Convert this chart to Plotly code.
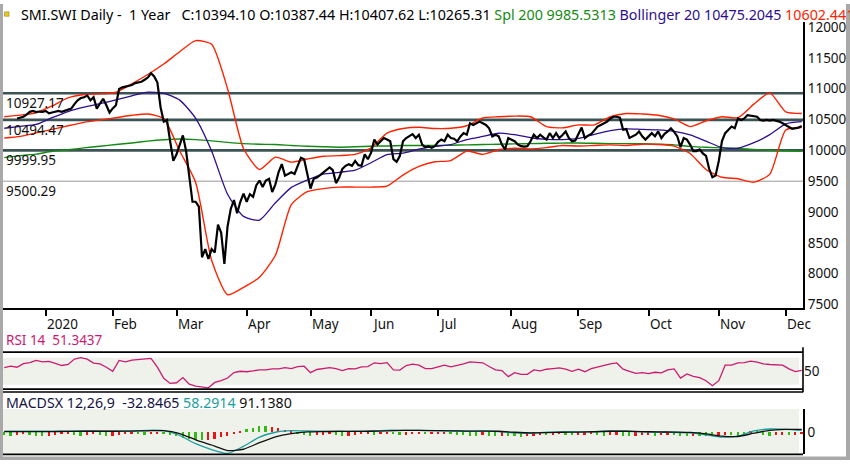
import pandas as pd
import plotly.graph_objects as go

# ---------------- calendar (SIX trading days) ----------------
HOLIDAYS = ["2019-12-24", "2019-12-25", "2019-12-26", "2019-12-31",
            "2020-01-01", "2020-01-02", "2020-04-10", "2020-04-13",
            "2020-05-01", "2020-05-21", "2020-06-01"]
START, END = "2019-12-09", "2020-12-08"
days = [d.strftime("%Y-%m-%d") for d in
        pd.bdate_range(START, END, freq="C", holidays=HOLIDAYS)]

# ---------------- price (daily closes from 2019-12-13) ----------------
closes = [
    10518, 10530, 10545, 10580, 10625, 10640, 10620, 10630, 10625,
    10640, 10600, 10615, 10625, 10640, 10625, 10640, 10652, 10677, 10750, 10811,
    10847, 10860, 10890, 10811, 10863, 10677, 10760, 10837, 10731, 10614,
    10680, 10731, 10995, 11022, 11034, 11045, 11059, 11091, 11100, 11113,
    11145, 11181, 11250, 11200, 11100, 10700, 10466, 10493, 10148, 9830,
    9936, 10100, 10243, 9990, 9600, 9167, 9167, 9087, 8267, 8399, 8240,
    8400, 8346, 8796, 8664, 8161, 8769, 9050, 9194, 8982, 9167, 9300,
    9167, 9290, 9246, 9432, 9512, 9405, 9512, 9539, 9326, 9450,
    9650, 9777, 9591, 9620, 9644, 9618, 9750, 9882, 9857, 9591,
    9380, 9539, 9560, 9600, 9644, 9690, 9723, 9680, 9470, 9560,
    9700, 9750, 9777, 9750, 9830, 9760, 9750, 9936, 9857,
    9962, 10175, 10095, 10148, 10200, 10175, 10148, 9857, 9814, 9909,
    10148, 10200, 10227, 10264, 10200, 10254, 10095, 10052, 10068, 10041, 10068,
    10140, 10175, 10148, 10254, 10200, 10190, 10148, 10227, 10280, 10254,
    10439, 10413, 10440, 10466, 10439, 10413, 10359, 10227, 10254, 10227,
    10095, 10016, 10200,
    10170, 10148, 10095, 10068, 10060, 10068, 10148, 10254, 10200, 10254,
    10210, 10175, 10280, 10200, 10280, 10200, 10250, 10307, 10200, 10148, 10160,
    10254, 10370, 10200, 10240, 10264, 10330, 10386, 10413, 10439, 10466,
    10518, 10545, 10545, 10530, 10334, 10345, 10200, 10230, 10254, 10307,
    10227, 10175,
    10230, 10280, 10230, 10307, 10200, 10270, 10307, 10359, 10300, 10227,
    10052, 10200, 10175, 10095, 9989, 9989, 10016, 9950, 9909, 9698, 9564, 9591,
    9830, 10150, 10280, 10334, 10386, 10359, 10518, 10493, 10518, 10572,
    10561, 10545, 10545, 10493, 10482, 10493, 10482, 10493, 10480, 10466, 10439,
    10402, 10380, 10350, 10359, 10370, 10394,
]

# ---------------- indicators read every 5th trading day ----------------
boll_upper = [
    10545, 10572, 10610, 10720, 10850, 10905, 10916, 10943, 11080, 11230,
    11400, 11600, 11780, 11720, 11000, 10030, 9690, 9890, 9810, 9860,
    9905, 9915, 9936, 10041, 10280, 10355, 10375, 10355, 10359, 10400,
    10525, 10545, 10556, 10545, 10386, 10365, 10413, 10413, 10545, 10598,
    10590, 10570, 10510, 10386, 10480, 10545, 10530, 10750, 10932, 10625,
    10598]
boll_lower = [
    10200, 10227, 10285, 10340, 10400, 10455, 10493, 10530, 10570, 10590,
    10515, 9990, 9480, 8220, 7660, 7780, 7945, 8300, 9120, 9330,
    9380, 9405, 9405, 9405, 9420, 9600, 9740, 9815, 9835, 9989,
    9936, 10010, 10035, 10025, 10045, 10080, 10070, 10080, 10090, 10080,
    10100, 10095, 10070, 9950, 9690, 9565, 9540, 9485, 9615, 10330,
    10370]
boll_mid = [
    10359, 10390, 10420, 10530, 10630, 10700, 10757, 10820, 10885, 10945,
    10925, 10815, 10520, 9990, 9290, 8930, 8870, 9150, 9400, 9520,
    9615, 9644, 9680, 9800, 9930, 9955, 10020, 10065, 10095, 10175,
    10227, 10278, 10255, 10205, 10180, 10175, 10195, 10260, 10320, 10350,
    10340, 10334, 10310, 10250, 10150, 10045, 10035, 10125, 10255, 10430,
    10466]
sma200 = [
    9882, 9915, 9940, 9985, 10010, 10040, 10068, 10095, 10120, 10150,
    10172, 10184, 10175, 10155, 10130, 10110, 10100, 10095, 10080, 10068,
    10060, 10052, 10058, 10068, 10072, 10079, 10079, 10079, 10084, 10090,
    10095, 10100, 10105, 10110, 10115, 10118, 10121, 10115, 10110, 10110,
    10108, 10100, 10090, 10065, 10050, 10040, 10032, 10015, 10003, 9995,
    9986]
macd_line = [
    30, 30, 30, 30, 35, 40, 35, 30, 40, 60,
    50, -100, -350, -530, -650, -430, -150, 0, 50, 40,
    30, 30, 30, 40, 60, 60, 60, 50, 40, 30,
    40, 20, -20, -30, 0, 10, 10, 20, 40, 30,
    10, 0, 0, -20, -80, -150, -120, 40, 100, 90,
    58]
signal_line = [
    20, 20, 20, 20, 25, 30, 30, 30, 35, 45,
    50, -40, -230, -390, -560, -520, -320, -140, -40, 10,
    20, 25, 25, 30, 45, 55, 55, 50, 45, 35,
    35, 30, 0, -20, -10, 0, 5, 15, 30, 30,
    20, 10, 5, -5, -50, -120, -130, -30, 60, 85,
    91]

# ---------------- indicators read every 2nd trading day ----------------
rsi14 = [
    55.5, 57.5, 56, 61.3, 62.8, 66, 64, 64.5, 61.5, 58.5,
    60, 68, 70, 68, 62, 61, 56, 50, 66, 64,
    66.5, 67, 68.5, 69, 56, 39.6, 32, 33, 40.6, 31,
    28, 26.5, 25.5, 33.5, 36, 40, 48, 50, 49.3, 50.5,
    52, 52, 53.5, 53.5, 55.5, 54, 57, 57.5, 48, 52.6,
    54, 55.3, 54, 51, 54, 53.5, 56.5, 57, 62.5, 61.3,
    62.8, 52, 51.7, 58.5, 60.4, 59, 54, 54, 56.5, 59,
    56.5, 58.5, 61, 63.8, 63, 62.5, 57, 52, 51, 42,
    48, 45.5, 45.5, 52, 50.7, 53, 54, 55, 53, 50,
    53, 49.3, 54, 56.5, 58.5, 61, 62.3, 53, 50, 47,
    48, 46.5, 48.5, 47.5, 52, 53.5, 40, 46, 42.5, 40.5,
    36, 28.5, 36, 59, 59, 62.5, 62.8, 65, 63.5, 61,
    60, 59.5, 59, 53.5, 49.5, 51.3]
macd_hist = [
    -80, -100, -90, -60, -70, -100, -110, -100, -80, -60,
    -50, -70, -100, -90, -60, -80, -110, -100, -80, -60,
    -40, -60, -90, -60, -40,
    -60, -90, -120, -170, -210, -240, -250, -235, -200, -160,
    -110, -60, 40, 90, 140, 180, 200, 170, 120, 80, 40,
    -60, -80, -100, -90, -70, -60, -90, -110, -100, -80,
    -60, -50, -70, -60, -40, -60, -90, -80, -60, -50,
    -60, -50, -40, -30, -40, -70, -90, -100, -100, -90,
    -100, -110, -100, -110, -120, -150, -130, -100, -80, -90,
    -80, -60, -70, -90, -80, -70, -60, -80, -100, -90,
    -80, -100, -110, -100, -90, -80, -100, -90, -70, -80,
    -100, -110, -100, -100, -110, -120, -110, -80, -90, -100,
    -110, 50, 70, -90, -100, -90, -80, -90, -80, -60]

LEVELS = [10927.17, 10494.47, 9999.95, 9500.29]
LEVEL_LABELS = ["10927.17", "10494.47", "9999.95", "9500.29"]

MONTH_TICKS = ["2020-01-03", "2020-02-03", "2020-03-02", "2020-04-01",
               "2020-05-04", "2020-06-02", "2020-07-01", "2020-08-03",
               "2020-09-01", "2020-10-01", "2020-11-02", "2020-12-01"]
MONTH_LABELS = ["2020", "Feb", "Mar", "Apr", "May", "Jun", "Jul", "Aug",
                "Sep", "Oct", "Nov", "Dec"]
PRICE_TICKS = [7500, 8000, 8500, 9000, 9500, 10000, 10500, 11000, 11500, 12000]

assert len(closes) <= len(days)
price_days = days[-len(closes):]
d5 = days[::5]
d2 = days[::2]
for arr in (boll_upper, boll_lower, boll_mid, sma200, macd_line, signal_line):
    assert len(arr) == len(d5), len(arr)
for arr in (rsi14, macd_hist):
    assert len(arr) == len(d2), len(arr)

# ---------------- styling ----------------
W, H = 850, 465
def px(x):
    return x / W
def py(y):
    return 1 - y / H

FONT = "Noto Sans"
RED = "#ff2200"
INDIGO = "#2e0e8e"
GREEN = "#138a13"
RSI_C = "#cc1a70"
TEAL = "#1a9e9e"
LEVEL_C = "#3b5353"
SHADE = "#eef2ea"
BAR_G = "#33bb11"
BAR_R = "#ee1111"

hist_colors = []
prev = 0
for h in macd_hist:
    hist_colors.append(BAR_G if abs(h) >= abs(prev) else BAR_R)
    prev = h

fig = go.Figure()
line = lambda c, w: dict(color=c, width=w, shape="spline", smoothing=0.6)

fig.add_trace(go.Scatter(x=d5, y=sma200, mode="lines", line=line(GREEN, 1.4), xaxis="x", yaxis="y"))
fig.add_trace(go.Scatter(x=d5, y=boll_upper, mode="lines", line=line(RED, 1.4), xaxis="x", yaxis="y"))
fig.add_trace(go.Scatter(x=d5, y=boll_lower, mode="lines", line=line(RED, 1.4), xaxis="x", yaxis="y"))
fig.add_trace(go.Scatter(x=d5, y=boll_mid, mode="lines", line=line(INDIGO, 1.3), xaxis="x", yaxis="y"))
fig.add_trace(go.Scatter(x=price_days, y=closes, mode="lines",
                         line=dict(color="#000000", width=2.2), xaxis="x", yaxis="y"))

fig.add_trace(go.Scatter(x=d2, y=rsi14, mode="lines", line=dict(color=RSI_C, width=1.3),
                         xaxis="x2", yaxis="y2"))

fig.add_trace(go.Bar(x=d2, y=macd_hist, marker=dict(color=hist_colors, line=dict(width=0)),
                     width=0.55 * 86400000, xaxis="x3", yaxis="y3"))
fig.add_trace(go.Scatter(x=d5, y=macd_line, mode="lines", line=line(TEAL, 1.3), xaxis="x3", yaxis="y3"))
fig.add_trace(go.Scatter(x=d5, y=signal_line, mode="lines", line=line("#111111", 1.3), xaxis="x3", yaxis="y3"))

rb = [dict(bounds=["sat", "mon"]), dict(values=HOLIDAYS)]
xr = ["2019-12-06 14:24", "2020-12-08 09:36"]
xdom = [px(3), px(803)]

shapes = []
for lv in LEVELS[:3]:
    shapes.append(dict(type="line", xref="x domain", yref="y", x0=0, x1=1, y0=lv, y1=lv,
                       line=dict(color=LEVEL_C, width=2.6), layer="below"))
shapes.append(dict(type="line", xref="x domain", yref="y", x0=0, x1=1, y0=LEVELS[3], y1=LEVELS[3],
                   line=dict(color="#999999", width=1), layer="below"))
# RSI band
shapes.append(dict(type="rect", xref="x2 domain", yref="y2", x0=0, x1=0.995, y0=30, y1=70,
                   fillcolor=SHADE, line=dict(width=0), layer="below"))
# MACD shade
shapes.append(dict(type="rect", xref="x3 domain", yref="y3 domain", x0=0, x1=0.995, y0=0.02, y1=1,
                   fillcolor=SHADE, line=dict(width=0), layer="below"))
# panel borders
for yy in (355, 392.7, 395.6, 459.3):
    shapes.append(dict(type="line", xref="paper", yref="paper", x0=px(3), x1=px(803),
                       y0=py(yy), y1=py(yy), line=dict(color="#000000", width=1.6)))
shapes.append(dict(type="line", xref="paper", yref="paper", x0=px(803), x1=px(803),
                   y0=py(350), y1=py(396), line=dict(color="#000000", width=1.6)))
# window frame
shapes.append(dict(type="rect", xref="paper", yref="paper", x0=0, x1=px(3), y0=0, y1=1,
                   fillcolor="#a9a9a9", line=dict(width=0)))
shapes.append(dict(type="rect", xref="paper", yref="paper", x0=px(846), x1=1, y0=0, y1=1,
                   fillcolor="#a9a9a9", line=dict(width=0)))
shapes.append(dict(type="rect", xref="paper", yref="paper", x0=0, x1=1, y0=0, y1=py(461.5),
                   fillcolor="#a9a9a9", line=dict(width=0)))
# flag icon
shapes.append(dict(type="rect", xref="paper", yref="paper", x0=px(4.5), x1=px(9), y0=py(12.5), y1=py(8),
                   fillcolor="#e8c820", line=dict(color="#8a7400", width=0.5)))

ann = []
ann.append(dict(
    xref="paper", yref="paper", x=px(19), y=py(11), xanchor="left", yanchor="middle",
    showarrow=False, font=dict(family=FONT, size=14.3, color="#000000"),
    text=("SMI.SWI Daily -\u00a0 1 Year \u00a0 C:10394.10 O:10387.44 H:10407.62 L:10265.31 "
          f"<span style='color:{GREEN}'>Spl 200 9985.5313</span> "
          f"<span style='color:{INDIGO}'>Bollinger 20 10475.2045</span> "
          f"<span style='color:{RED}'>10602.4418 10347.9672</span>")))
for lv, lab in zip(LEVELS, LEVEL_LABELS):
    ann.append(dict(xref="paper", yref="y", x=px(4), y=lv, yshift=-10, xanchor="left",
                    yanchor="middle", showarrow=False, text=lab,
                    font=dict(family=FONT, size=13.5, color="#111111")))
for d, lab in zip(MONTH_TICKS, MONTH_LABELS):
    ann.append(dict(xref="x", yref="paper", x=d, y=py(326.5), xanchor="left", yanchor="middle",
                    xshift=-1, showarrow=False, text=lab,
                    font=dict(family=FONT, size=13.5, color="#111111")))
ann.append(dict(xref="paper", yref="paper", x=px(4), y=py(343), xanchor="left", yanchor="middle",
                showarrow=False, text="RSI 14\u00a0 51.3437",
                font=dict(family=FONT, size=13.5, color=RSI_C)))
ann.append(dict(xref="paper", yref="paper", x=px(4), y=py(406), xanchor="left", yanchor="middle",
                showarrow=False,
                text=("<span style='color:#141440'>MACDSX 12,26,9\u00a0 -32.8465</span> "
                      f"<span style='color:{TEAL}'>58.2914</span> "
                      "<span style='color:#111111'>91.1380</span>"),
                font=dict(family=FONT, size=14.2, color="#141440")))

tickfont = dict(family=FONT, size=13.5, color="#111111")
fig.update_layout(
    width=W, height=H, margin=dict(l=0, r=0, t=0, b=0),
    paper_bgcolor="#ffffff", plot_bgcolor="rgba(0,0,0,0)",
    showlegend=False, hovermode=False, bargap=0,
    xaxis=dict(domain=xdom, type="date", range=xr, rangebreaks=rb, anchor="y",
               showgrid=False, zeroline=False, showline=True, linecolor="#000000", linewidth=2,
               ticks="outside", ticklen=6, tickwidth=1.5, tickcolor="#000000",
               tickvals=MONTH_TICKS, showticklabels=False),
    yaxis=dict(domain=[py(310), py(18)], range=[7445, 12087], side="right", anchor="x",
               showgrid=False, zeroline=False, showline=True, linecolor="#000000", linewidth=2,
               ticks="", tickvals=PRICE_TICKS, tickformat="d", tickfont=tickfont),
    xaxis2=dict(domain=xdom, type="date", range=xr, rangebreaks=rb, anchor="y2", matches="x",
                showgrid=False, zeroline=False, showline=False, showticklabels=False, ticks=""),
    yaxis2=dict(domain=[py(392.7), py(355)], range=[23.6, 78.3], side="right", anchor="x2",
                showgrid=False, zeroline=False, showline=False, ticks="", tickvals=[50],
                tickfont=tickfont),
    xaxis3=dict(domain=xdom, type="date", range=xr, rangebreaks=rb, anchor="y3", matches="x",
                showgrid=False, zeroline=False, showline=False, showticklabels=False, ticks=""),
    yaxis3=dict(domain=[py(459.3), py(413)], range=[-678, 711], side="right", anchor="x3",
                showgrid=False, zeroline=False, showline=True, linecolor="#000000", linewidth=1.6,
                ticks="", tickvals=[0], tickfont=tickfont),
    shapes=shapes, annotations=ann,
)

fig.write_html("out.html", config={"displayModeBar": False},
               post_script="document.body.style.margin='0px';document.body.style.padding='0px';")
